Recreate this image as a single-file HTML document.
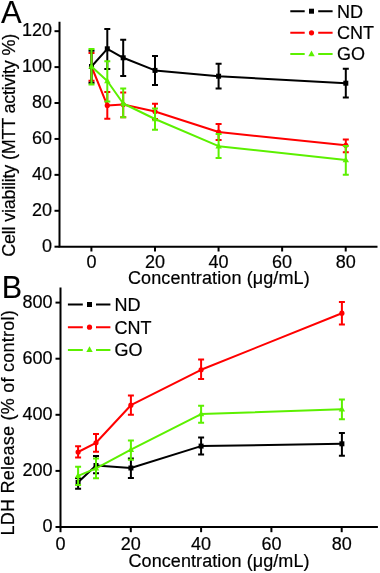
<!DOCTYPE html><html><head><meta charset="utf-8"><style>html,body{margin:0;padding:0;background:#fff;}svg{display:block;will-change:transform}text{stroke:#000;stroke-width:0.2px}</style></head><body>
<svg width="380" height="573" viewBox="0 0 380 573" style="font-family:'Liberation Sans', sans-serif">
<rect width="380" height="573" fill="#fff"/>
<path d="M59.5 21.8V247.7M58.5 246.7H377.5" stroke="#000" stroke-width="2" fill="none"/>
<path d="M54.5 246.70H59.5" stroke="#000" stroke-width="2"/>
<text x="52" y="252.00" font-size="18" text-anchor="end">0</text>
<path d="M54.5 210.78H59.5" stroke="#000" stroke-width="2"/>
<text x="52" y="216.08" font-size="18" text-anchor="end">20</text>
<path d="M54.5 174.86H59.5" stroke="#000" stroke-width="2"/>
<text x="52" y="180.16" font-size="18" text-anchor="end">40</text>
<path d="M54.5 138.94H59.5" stroke="#000" stroke-width="2"/>
<text x="52" y="144.24" font-size="18" text-anchor="end">60</text>
<path d="M54.5 103.02H59.5" stroke="#000" stroke-width="2"/>
<text x="52" y="108.32" font-size="18" text-anchor="end">80</text>
<path d="M54.5 67.10H59.5" stroke="#000" stroke-width="2"/>
<text x="52" y="72.40" font-size="18" text-anchor="end">100</text>
<path d="M54.5 31.18H59.5" stroke="#000" stroke-width="2"/>
<text x="52" y="36.48" font-size="18" text-anchor="end">120</text>
<path d="M91.40 246.7V251.5" stroke="#000" stroke-width="2"/>
<text x="91.40" y="267.5" font-size="18" text-anchor="middle">0</text>
<path d="M154.98 246.7V251.5" stroke="#000" stroke-width="2"/>
<text x="154.98" y="267.5" font-size="18" text-anchor="middle">20</text>
<path d="M218.56 246.7V251.5" stroke="#000" stroke-width="2"/>
<text x="218.56" y="267.5" font-size="18" text-anchor="middle">40</text>
<path d="M282.14 246.7V251.5" stroke="#000" stroke-width="2"/>
<text x="282.14" y="267.5" font-size="18" text-anchor="middle">60</text>
<path d="M345.72 246.7V251.5" stroke="#000" stroke-width="2"/>
<text x="345.72" y="267.5" font-size="18" text-anchor="middle">80</text>
<text x="128" y="284" font-size="18" textLength="181.7" lengthAdjust="spacing">Concentration (μg/mL)</text>
<text transform="translate(14.7 256.7) rotate(-90)" font-size="18" textLength="222.9" lengthAdjust="spacing">Cell viability (MTT activity %)</text>
<text x="0.9" y="22.6" font-size="31" style="stroke-width:0.1px">A</text>
<polyline points="91.5,66.5 107.3,105.4 123.2,104.5 155,111.5 218.6,132 345.8,145.3" stroke="#ff0000" stroke-width="2.0" fill="none" stroke-linejoin="round"/>
<path d="M91.5 53V80.8M88.5 53H94.5M88.5 80.8H94.5" stroke="#ff0000" stroke-width="2.0" fill="none"/>
<path d="M107.3 92V118.8M104.3 92H110.3M104.3 118.8H110.3" stroke="#ff0000" stroke-width="2.0" fill="none"/>
<path d="M123.2 92.5V117.3M120.2 92.5H126.2M120.2 117.3H126.2" stroke="#ff0000" stroke-width="2.0" fill="none"/>
<path d="M155 103.7V119M152.0 103.7H158.0M152.0 119H158.0" stroke="#ff0000" stroke-width="2.0" fill="none"/>
<path d="M218.6 124V140M215.6 124H221.6M215.6 140H221.6" stroke="#ff0000" stroke-width="2.0" fill="none"/>
<path d="M345.8 139.6V152.2M342.8 139.6H348.8M342.8 152.2H348.8" stroke="#ff0000" stroke-width="2.0" fill="none"/>
<circle cx="91.5" cy="66.5" r="2.6" fill="#ff0000"/>
<circle cx="107.3" cy="105.4" r="2.6" fill="#ff0000"/>
<circle cx="123.2" cy="104.5" r="2.6" fill="#ff0000"/>
<circle cx="155" cy="111.5" r="2.6" fill="#ff0000"/>
<circle cx="218.6" cy="132" r="2.6" fill="#ff0000"/>
<circle cx="345.8" cy="145.3" r="2.6" fill="#ff0000"/>
<polyline points="91.5,66.5 107.3,48.8 123.2,57.8 155,70.4 218.6,76.2 345.8,83.2" stroke="#000" stroke-width="2.0" fill="none" stroke-linejoin="round"/>
<path d="M91.5 50.7V82.7M88.5 50.7H94.5M88.5 82.7H94.5" stroke="#000" stroke-width="2.0" fill="none"/>
<path d="M107.3 29V69M104.3 29H110.3M104.3 69H110.3" stroke="#000" stroke-width="2.0" fill="none"/>
<path d="M123.2 39.8V76M120.2 39.8H126.2M120.2 76H126.2" stroke="#000" stroke-width="2.0" fill="none"/>
<path d="M155 55.9V84.9M152.0 55.9H158.0M152.0 84.9H158.0" stroke="#000" stroke-width="2.0" fill="none"/>
<path d="M218.6 63.7V88.4M215.6 63.7H221.6M215.6 88.4H221.6" stroke="#000" stroke-width="2.0" fill="none"/>
<path d="M345.8 68.8V97.5M342.8 68.8H348.8M342.8 97.5H348.8" stroke="#000" stroke-width="2.0" fill="none"/>
<rect x="89.0" y="64.0" width="5.0" height="5.0" fill="#000"/>
<rect x="104.8" y="46.3" width="5.0" height="5.0" fill="#000"/>
<rect x="120.7" y="55.3" width="5.0" height="5.0" fill="#000"/>
<rect x="152.5" y="67.9" width="5.0" height="5.0" fill="#000"/>
<rect x="216.1" y="73.7" width="5.0" height="5.0" fill="#000"/>
<rect x="343.3" y="80.7" width="5.0" height="5.0" fill="#000"/>
<polyline points="91.5,66.5 107.3,81 123.2,103.5 155,119 218.6,146.2 345.8,160" stroke="#5cf000" stroke-width="2.0" fill="none" stroke-linejoin="round"/>
<path d="M91.5 49.1V84.6M88.5 49.1H94.5M88.5 84.6H94.5" stroke="#5cf000" stroke-width="2.0" fill="none"/>
<path d="M107.3 61.3V101.6M104.3 61.3H110.3M104.3 101.6H110.3" stroke="#5cf000" stroke-width="2.0" fill="none"/>
<path d="M123.2 88.5V117.3M120.2 88.5H126.2M120.2 117.3H126.2" stroke="#5cf000" stroke-width="2.0" fill="none"/>
<path d="M155 108.6V129.7M152.0 108.6H158.0M152.0 129.7H158.0" stroke="#5cf000" stroke-width="2.0" fill="none"/>
<path d="M218.6 134V158M215.6 134H221.6M215.6 158H221.6" stroke="#5cf000" stroke-width="2.0" fill="none"/>
<path d="M345.8 145.9V174.7M342.8 145.9H348.8M342.8 174.7H348.8" stroke="#5cf000" stroke-width="2.0" fill="none"/>
<path d="M91.5 62.9L94.7 68.7L88.3 68.7Z" fill="#5cf000"/>
<path d="M107.3 77.4L110.5 83.2L104.1 83.2Z" fill="#5cf000"/>
<path d="M123.2 99.9L126.4 105.7L120.0 105.7Z" fill="#5cf000"/>
<path d="M155 115.4L158.2 121.2L151.8 121.2Z" fill="#5cf000"/>
<path d="M218.6 142.6L221.79999999999998 148.39999999999998L215.4 148.39999999999998Z" fill="#5cf000"/>
<path d="M345.8 156.4L349.0 162.2L342.6 162.2Z" fill="#5cf000"/>
<path d="M290.3 11.2H304.7M318.2 11.2H332.6" stroke="#000" stroke-width="2" fill="none"/>
<rect x="309.0" y="8.7" width="5.0" height="5.0" fill="#000"/>
<text x="337" y="17.5" font-size="18">ND</text>
<path d="M290.3 32.8H304.7M318.2 32.8H332.6" stroke="#ff0000" stroke-width="2" fill="none"/>
<circle cx="311.5" cy="32.8" r="2.6" fill="#ff0000"/>
<text x="337" y="39.099999999999994" font-size="18">CNT</text>
<path d="M290.3 54.0H304.7M318.2 54.0H332.6" stroke="#5cf000" stroke-width="2" fill="none"/>
<path d="M311.5 50.4L314.7 56.2L308.3 56.2Z" fill="#5cf000"/>
<text x="337" y="60.3" font-size="18">GO</text>
<path d="M60.5 287.5V528.0M59.5 527.0H377.9" stroke="#000" stroke-width="2" fill="none"/>
<path d="M55.5 527.00H60.5" stroke="#000" stroke-width="2"/>
<text x="52.5" y="532.30" font-size="18" text-anchor="end">0</text>
<path d="M55.5 470.90H60.5" stroke="#000" stroke-width="2"/>
<text x="52.5" y="476.20" font-size="18" text-anchor="end">200</text>
<path d="M55.5 414.80H60.5" stroke="#000" stroke-width="2"/>
<text x="52.5" y="420.10" font-size="18" text-anchor="end">400</text>
<path d="M55.5 358.70H60.5" stroke="#000" stroke-width="2"/>
<text x="52.5" y="364.00" font-size="18" text-anchor="end">600</text>
<path d="M55.5 302.60H60.5" stroke="#000" stroke-width="2"/>
<text x="52.5" y="307.90" font-size="18" text-anchor="end">800</text>
<path d="M60.50 527.0V532.2" stroke="#000" stroke-width="2"/>
<text x="60.50" y="549.5" font-size="18" text-anchor="middle">0</text>
<path d="M130.80 527.0V532.2" stroke="#000" stroke-width="2"/>
<text x="130.80" y="549.5" font-size="18" text-anchor="middle">20</text>
<path d="M201.10 527.0V532.2" stroke="#000" stroke-width="2"/>
<text x="201.10" y="549.5" font-size="18" text-anchor="middle">40</text>
<path d="M271.40 527.0V532.2" stroke="#000" stroke-width="2"/>
<text x="271.40" y="549.5" font-size="18" text-anchor="middle">60</text>
<path d="M341.70 527.0V532.2" stroke="#000" stroke-width="2"/>
<text x="341.70" y="549.5" font-size="18" text-anchor="middle">80</text>
<text x="128.5" y="567" font-size="18" textLength="181.0" lengthAdjust="spacing">Concentration (μg/mL)</text>
<text transform="translate(14.2 535.4) rotate(-90)" font-size="18" textLength="225.1" lengthAdjust="spacing">LDH Release (% of control)</text>
<text x="1.7" y="298" font-size="30.5" style="stroke-width:0.1px">B</text>
<polyline points="78.1,452 96,442.8 130.9,405.2 201.1,369.8 341.9,313.2" stroke="#ff0000" stroke-width="2.0" fill="none" stroke-linejoin="round"/>
<path d="M78.1 446.3V457.5M75.1 446.3H81.1M75.1 457.5H81.1" stroke="#ff0000" stroke-width="2.0" fill="none"/>
<path d="M96 434V451.8M93.0 434H99.0M93.0 451.8H99.0" stroke="#ff0000" stroke-width="2.0" fill="none"/>
<path d="M130.9 395.6V414.8M127.9 395.6H133.9M127.9 414.8H133.9" stroke="#ff0000" stroke-width="2.0" fill="none"/>
<path d="M201.1 359.5V379.1M198.1 359.5H204.1M198.1 379.1H204.1" stroke="#ff0000" stroke-width="2.0" fill="none"/>
<path d="M341.9 302V324.6M338.9 302H344.9M338.9 324.6H344.9" stroke="#ff0000" stroke-width="2.0" fill="none"/>
<circle cx="78.1" cy="452" r="2.6" fill="#ff0000"/>
<circle cx="96" cy="442.8" r="2.6" fill="#ff0000"/>
<circle cx="130.9" cy="405.2" r="2.6" fill="#ff0000"/>
<circle cx="201.1" cy="369.8" r="2.6" fill="#ff0000"/>
<circle cx="341.9" cy="313.2" r="2.6" fill="#ff0000"/>
<polyline points="78.1,482.3 96,465.5 130.9,468 201.1,446.1 341.9,443.8" stroke="#000" stroke-width="2.0" fill="none" stroke-linejoin="round"/>
<path d="M78.1 477.9V488.7M75.1 477.9H81.1M75.1 488.7H81.1" stroke="#000" stroke-width="2.0" fill="none"/>
<path d="M96 456.1V473.2M93.0 456.1H99.0M93.0 473.2H99.0" stroke="#000" stroke-width="2.0" fill="none"/>
<path d="M130.9 458.6V478.1M127.9 458.6H133.9M127.9 478.1H133.9" stroke="#000" stroke-width="2.0" fill="none"/>
<path d="M201.1 437.5V454.5M198.1 437.5H204.1M198.1 454.5H204.1" stroke="#000" stroke-width="2.0" fill="none"/>
<path d="M341.9 433V455.8M338.9 433H344.9M338.9 455.8H344.9" stroke="#000" stroke-width="2.0" fill="none"/>
<rect x="75.6" y="479.8" width="5.0" height="5.0" fill="#000"/>
<rect x="93.5" y="463.0" width="5.0" height="5.0" fill="#000"/>
<rect x="128.4" y="465.5" width="5.0" height="5.0" fill="#000"/>
<rect x="198.6" y="443.6" width="5.0" height="5.0" fill="#000"/>
<rect x="339.4" y="441.3" width="5.0" height="5.0" fill="#000"/>
<polyline points="78.1,475.9 96,468.4 130.9,449.7 201.1,414.1 341.9,409.3" stroke="#5cf000" stroke-width="2.0" fill="none" stroke-linejoin="round"/>
<path d="M78.1 466.8V485M75.1 466.8H81.1M75.1 485H81.1" stroke="#5cf000" stroke-width="2.0" fill="none"/>
<path d="M96 458.6V478.2M93.0 458.6H99.0M93.0 478.2H99.0" stroke="#5cf000" stroke-width="2.0" fill="none"/>
<path d="M130.9 440.6V459.8M127.9 440.6H133.9M127.9 459.8H133.9" stroke="#5cf000" stroke-width="2.0" fill="none"/>
<path d="M201.1 405.7V422.7M198.1 405.7H204.1M198.1 422.7H204.1" stroke="#5cf000" stroke-width="2.0" fill="none"/>
<path d="M341.9 399.5V419.3M338.9 399.5H344.9M338.9 419.3H344.9" stroke="#5cf000" stroke-width="2.0" fill="none"/>
<path d="M78.1 472.29999999999995L81.3 478.09999999999997L74.89999999999999 478.09999999999997Z" fill="#5cf000"/>
<path d="M96 464.79999999999995L99.2 470.59999999999997L92.8 470.59999999999997Z" fill="#5cf000"/>
<path d="M130.9 446.09999999999997L134.1 451.9L127.7 451.9Z" fill="#5cf000"/>
<path d="M201.1 410.5L204.29999999999998 416.3L197.9 416.3Z" fill="#5cf000"/>
<path d="M341.9 405.7L345.09999999999997 411.5L338.7 411.5Z" fill="#5cf000"/>
<path d="M67.9 304.5H82.8M96 304.5H110.4" stroke="#000" stroke-width="2" fill="none"/>
<rect x="87.0" y="302.0" width="5.0" height="5.0" fill="#000"/>
<text x="114.5" y="310.8" font-size="18">ND</text>
<path d="M67.9 327.2H82.8M96 327.2H110.4" stroke="#ff0000" stroke-width="2" fill="none"/>
<circle cx="89.5" cy="327.2" r="2.6" fill="#ff0000"/>
<text x="114.5" y="333.5" font-size="18">CNT</text>
<path d="M67.9 349.9H82.8M96 349.9H110.4" stroke="#5cf000" stroke-width="2" fill="none"/>
<path d="M89.5 346.29999999999995L92.7 352.09999999999997L86.3 352.09999999999997Z" fill="#5cf000"/>
<text x="114.5" y="356.2" font-size="18">GO</text>
</svg></body></html>
